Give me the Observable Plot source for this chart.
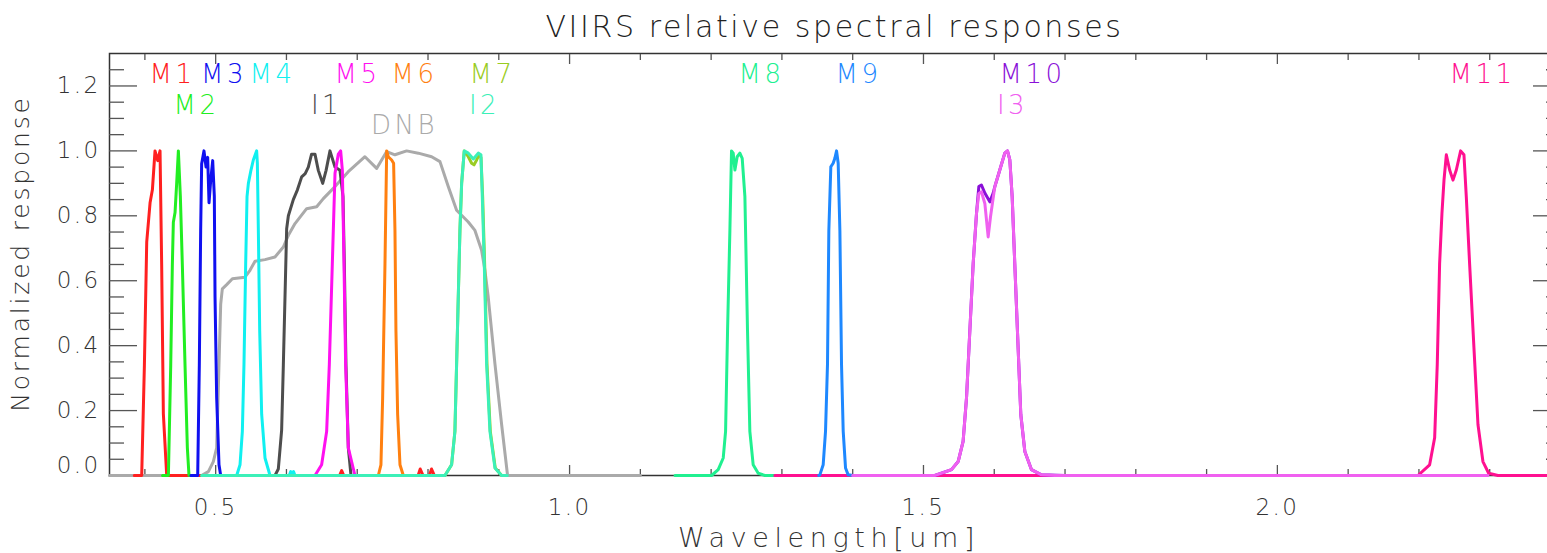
<!DOCTYPE html>
<html>
<head>
<meta charset="utf-8">
<script src="https://cdn.jsdelivr.net/npm/d3@7"></script>
<script src="https://cdn.jsdelivr.net/npm/@observablehq/plot@0.6"></script>
<style>
  html, body { margin: 0; padding: 0; background: #fff; overflow: hidden; }
  #title {
    width: 1451px; margin-left: 109px; height: 44px; box-sizing: border-box;
    padding-top: 12px; line-height: 1; text-align: center;
    font-family: "DejaVu Sans", sans-serif; font-weight: 200; font-size: 30px;
    letter-spacing: 2.6px; color: #222; white-space: nowrap;
  }
  #chart { width: 1547px; height: 509px; overflow: hidden; }
  #chart svg { max-width: none !important; width: 1560px !important; height: 509px !important; }
  #chart svg text { letter-spacing: 2.4px; font-weight: 200; }
  #chart svg .band-label text { letter-spacing: 3.5px; }
  #chart svg .axis-title-y text { letter-spacing: 2.8px; }
  #chart svg .axis-title-x text { letter-spacing: 5.6px; }
</style>
</head>
<body>
<div id="title">VIIRS relative spectral responses</div>
<div id="chart"></div>
<script>
// ---- band order (draw order), colours ----
const bandNames  = ["DNB", "M1", "M2", "M3", "M4", "I1", "M5", "M6", "M7", "I2", "M8", "M11", "M9", "M10", "I3"];
const bandColors = ["#AAAAAA", "#FF2020", "#22EE22", "#1010F0", "#10F0F0", "#4D4D4D", "#FF10F0", "#FF8010",
                    "#99CC22", "#3CF0B8", "#20F090", "#FF1090", "#1E88FF", "#8A10D8", "#F060F0"];

// ---- relative spectral responses: [wavelength (um), normalized response] ----
const DNB = [[0.35,0],[0.48,0],[0.4897,0.012],[0.4967,0.043],[0.5014,0.085],[0.5047,0.343],[0.5071,0.528],[0.5094,0.575],
  [0.5156,0.588],[0.5236,0.606],[0.5414,0.611],[0.5485,0.632],[0.5556,0.66],[0.5697,0.665],[0.5838,0.673],[0.5956,0.704],
  [0.6027,0.74],[0.6121,0.776],[0.6285,0.822],[0.6427,0.828],[0.6521,0.853],[0.6686,0.89],[0.6874,0.936],[0.7109,0.982],
  [0.7274,0.946],[0.7416,0.998],[0.7533,0.988],[0.7698,1.0],[0.7863,0.993],[0.8051,0.982],[0.8169,0.967],[0.8286,0.89],
  [0.8404,0.817],[0.8569,0.781],[0.8663,0.755],[0.8757,0.694],[0.8804,0.632],[0.8851,0.549],[0.8946,0.343],[0.904,0.157],
  [0.9124,0],[1.10,0]];
const M1 = [[0.385,0],[0.3955,0],[0.3993,0.34],[0.4026,0.72],[0.4073,0.84],[0.4106,0.88],[0.4143,1.0],[0.4181,0.97],
  [0.4214,1.0],[0.4237,0.65],[0.4261,0.19],[0.4308,0],[0.675,0],[0.678,0.015],[0.681,0],[0.786,0],[0.789,0.02],
  [0.793,0],[0.802,0],[0.805,0.02],[0.809,0],[0.812,0]];
const M2 = [[0.425,0],[0.4332,0],[0.4365,0.34],[0.4388,0.65],[0.4402,0.78],[0.4426,0.81],[0.4449,0.9],[0.4473,1.0],
  [0.4501,0.86],[0.4529,0.65],[0.4567,0.34],[0.46,0.085],[0.4623,0],[0.47,0]];
const M3 = [[0.465,0],[0.4746,0],[0.4769,0.34],[0.4788,0.755],[0.4802,0.96],[0.4835,1.0],[0.4864,0.95],[0.4887,0.98],
  [0.4906,0.84],[0.493,0.91],[0.4958,0.97],[0.4981,0.86],[0.4991,0.55],[0.5014,0.24],[0.5047,0.033],[0.5071,0],[0.515,0]];
const M4 = [[0.52,0],[0.5297,0],[0.5344,0.033],[0.5377,0.136],[0.54,0.343],[0.5424,0.652],[0.5443,0.859],[0.5462,0.9],
  [0.5499,0.941],[0.5532,0.972],[0.5579,1.0],[0.5589,0.962],[0.5603,0.755],[0.5622,0.446],[0.565,0.188],[0.5697,0.054],
  [0.5768,0],[0.604,0],[0.606,0.012],[0.608,0],[0.61,0.012],[0.612,0],[0.62,0]];
const I1 = [[0.575,0],[0.5838,0],[0.5885,0.02],[0.5932,0.14],[0.5956,0.34],[0.6003,0.76],[0.6027,0.8],[0.6097,0.85],
  [0.6155,0.88],[0.6215,0.92],[0.6265,0.93],[0.6309,0.95],[0.6355,0.99],[0.6403,0.99],[0.645,0.94],[0.6512,0.9],
  [0.656,0.94],[0.6615,1.0],[0.6686,0.95],[0.6756,0.94],[0.6799,0.86],[0.6818,0.65],[0.6841,0.34],[0.6874,0.085],
  [0.6912,0],[0.70,0]];
const M5 = [[0.63,0],[0.6403,0],[0.6497,0.033],[0.6568,0.136],[0.6606,0.343],[0.6648,0.652],[0.6686,0.931],[0.6733,0.99],
  [0.6766,1.0],[0.679,0.94],[0.6813,0.652],[0.6836,0.343],[0.6874,0.085],[0.6968,0],[0.705,0]];
const M6 = [[0.72,0],[0.7298,0],[0.7335,0.033],[0.7359,0.239],[0.7392,0.652],[0.7416,1.0],[0.7439,0.982],[0.7486,0.972],
  [0.7514,0.962],[0.7533,0.755],[0.7547,0.446],[0.7571,0.188],[0.7604,0.033],[0.7651,0],[0.775,0]];
const M7 = [[0.80,0],[0.8239,0],[0.8333,0.033],[0.838,0.136],[0.8404,0.343],[0.8451,0.755],[0.8475,0.9],[0.8512,1.0],
  [0.8569,0.982],[0.8616,0.962],[0.865,0.957],[0.8687,0.972],[0.872,0.988],[0.8748,0.98],[0.8772,0.859],[0.88,0.652],
  [0.8833,0.343],[0.888,0.136],[0.895,0.023],[0.904,0]];
const I2 = [[0.48,0],[0.8239,0],[0.8333,0.033],[0.838,0.136],[0.8404,0.343],[0.8451,0.755],[0.8475,0.9],[0.8512,1.0],
  [0.8569,0.993],[0.864,0.975],[0.871,0.993],[0.8748,0.988],[0.8767,0.859],[0.8795,0.652],[0.8828,0.343],[0.8875,0.136],
  [0.8946,0.023],[0.904,0],[0.912,0]];
const M8 = [[1.149,0],[1.2006,0],[1.21,0.018],[1.2171,0.054],[1.2204,0.136],[1.2232,0.446],[1.2265,0.755],[1.2288,1.0],
  [1.2312,0.993],[1.2336,0.941],[1.2368,0.982],[1.2406,0.993],[1.2439,0.977],[1.2477,0.859],[1.2514,0.446],[1.2547,0.136],
  [1.2594,0.033],[1.2665,0.007],[1.2759,0],[1.29,0]];
const M11 = [[1.29,0],[2.1986,0],[2.2151,0.033],[2.2222,0.116],[2.2259,0.343],[2.2292,0.652],[2.2325,0.807],[2.2354,0.91],
  [2.2387,0.988],[2.2434,0.941],[2.2481,0.91],[2.2528,0.941],[2.2589,1.0],[2.2636,0.988],[2.2669,0.859],[2.2716,0.652],
  [2.2777,0.394],[2.2834,0.157],[2.2904,0.043],[2.2985,0.007],[2.3116,0],[2.4,0]];
const M9 = [[1.352,0],[1.3536,0.002],[1.3583,0.033],[1.3616,0.136],[1.3644,0.343],[1.3663,0.755],[1.3691,0.951],
  [1.3724,0.962],[1.3748,0.977],[1.3772,1.0],[1.3795,0.962],[1.3819,0.755],[1.3842,0.343],[1.3866,0.136],[1.3899,0.023],
  [1.3936,0.002],[1.4007,0]];
const M10 = [[1.50,0],[1.516,0],[1.5396,0.018],[1.549,0.043],[1.556,0.105],[1.5608,0.239],[1.5655,0.446],[1.5702,0.652],
  [1.5749,0.807],[1.5782,0.89],[1.5819,0.895],[1.5867,0.87],[1.5937,0.843],[1.5985,0.87],[1.6008,0.89],[1.6078,0.941],
  [1.6149,0.993],[1.6187,1.0],[1.622,0.972],[1.6253,0.859],[1.629,0.652],[1.6337,0.394],[1.6375,0.188],[1.6432,0.074],
  [1.6526,0.018],[1.6667,0.002],[1.70,0]];
const I3 = [[1.40,0],[1.516,0],[1.5396,0.018],[1.549,0.043],[1.556,0.105],[1.5608,0.239],[1.5655,0.446],[1.5702,0.652],
  [1.5749,0.807],[1.5782,0.869],[1.5819,0.874],[1.5867,0.838],[1.5914,0.735],[1.5947,0.797],[1.6008,0.89],[1.6078,0.941],
  [1.6149,0.993],[1.6187,1.0],[1.622,0.972],[1.6253,0.859],[1.629,0.652],[1.6337,0.394],[1.6375,0.188],[1.6432,0.074],
  [1.6526,0.018],[1.6667,0.002],[1.6855,0],[2.2975,0]];
const bandData = [DNB, M1, M2, M3, M4, I1, M5, M6, M7, I2, M8, M11, M9, M10, I3];

// ---- band labels ----
const labelNames       = ["M1", "M3", "M4", "M5", "M6", "M7", "M2", "I1", "I2", "DNB", "M8", "M9", "M10", "I3", "M11"];
const labelWavelengths = [0.439, 0.5118, 0.5803, 0.7004, 0.7809, 0.8911, 0.4729, 0.6566, 0.8798, 0.7668, 1.2712, 1.4082, 1.654, 1.6258, 2.2898];
const labelResponses   = [1.235, 1.235, 1.235, 1.235, 1.235, 1.235, 1.14, 1.14, 1.14, 1.078, 1.235, 1.235, 1.235, 1.14, 1.235];

// ---- axes ----
const xTitle = "Wavelength[um]";
const yTitle = "Normalized response";
const xDomain = [0.35, 2.4];
const yDomain = [0, 1.3];
const xTicks = [0.5, 1.0, 1.5, 2.0];
const xMinorTicks = [0.4, 0.6, 0.7, 0.8, 0.9, 1.1, 1.2, 1.3, 1.4, 1.6, 1.7, 1.8, 1.9, 2.1, 2.2, 2.3];
const yTicks = [0.2, 0.4, 0.6, 0.8, 1.0, 1.2];
const yZeroTick = [0];
const yMinorTicks = [0.05, 0.1, 0.15, 0.25, 0.3, 0.35, 0.45, 0.5, 0.55, 0.65, 0.7, 0.75, 0.85, 0.9, 0.95, 1.05, 1.1, 1.15, 1.25];

const table = bandNames.flatMap((band, i) => bandData[i].map(([w, r]) => ({band, w, r})));
const labels = labelNames.map((t, i) => ({t, w: labelWavelengths[i], r: labelResponses[i]}));
const blank = () => "";
const tk = {stroke: "#555", strokeWidth: 1.3, label: null, tickFormat: blank};
const yLab = {anchor: "left", tickSize: -28, tickPadding: 37, tickFormat: ".1f", fontSize: 23,
  stroke: "#555", strokeWidth: 1.3, fill: "#333", label: null};

const chart = Plot.plot({
  width: 1560, height: 509,
  marginLeft: 109, marginRight: 0, marginTop: 9, marginBottom: 78,
  x: {domain: xDomain},
  y: {domain: yDomain},
  color: {domain: bandNames, range: bandColors},
  style: {fontFamily: '"DejaVu Sans", sans-serif', background: "white", color: "#333", maxWidth: "none"},
  marks: [
    Plot.frame({stroke: "#333", strokeWidth: 1.5}),
    Plot.axisY(yMinorTicks, {...tk, anchor: "left", tickSize: -15}),
    Plot.axisY(yMinorTicks, {...tk, anchor: "right", tickSize: -15}),
    Plot.axisY(yTicks, yLab),
    Plot.axisY(yZeroTick, {...yLab, tickSize: 0, tickPadding: 9, dy: -10}),
    Plot.axisY(yZeroTick, {...tk, anchor: "left", tickSize: -28}),
    Plot.axisY([...yZeroTick, ...yTicks], {...tk, anchor: "right", tickSize: -28}),
    Plot.axisX(xMinorTicks, {...tk, anchor: "bottom", tickSize: -6}),
    Plot.axisX(xMinorTicks, {...tk, anchor: "top", tickSize: -6}),
    Plot.axisX(xTicks, {anchor: "bottom", tickSize: -10, tickPadding: 33, tickFormat: ".1f", fontSize: 23,
      stroke: "#555", strokeWidth: 1.3, fill: "#333", label: null}),
    Plot.axisX(xTicks, {...tk, anchor: "top", tickSize: -10}),
    Plot.line(table, {x: "w", y: "r", z: "band", stroke: "band", strokeWidth: 3, strokeLinejoin: "round"}),
    Plot.text(labels, {x: "w", y: "r", text: "t", fill: "t", fontSize: 26, lineAnchor: "middle", className: "band-label"}),
    Plot.text([yTitle], {text: d => d, frameAnchor: "left", rotate: -90, lineAnchor: "top", textAnchor: "middle",
      dx: -98, dy: -11, fontSize: 25, fill: "#333", className: "axis-title-y"}),
    Plot.text([xTitle], {text: d => d, frameAnchor: "bottom", lineAnchor: "top", textAnchor: "middle",
      dx: -6, dy: 52, fontSize: 27, fill: "#333", className: "axis-title-x"})
  ]
});
document.getElementById("chart").appendChild(chart);
</script>
</body>
</html>
